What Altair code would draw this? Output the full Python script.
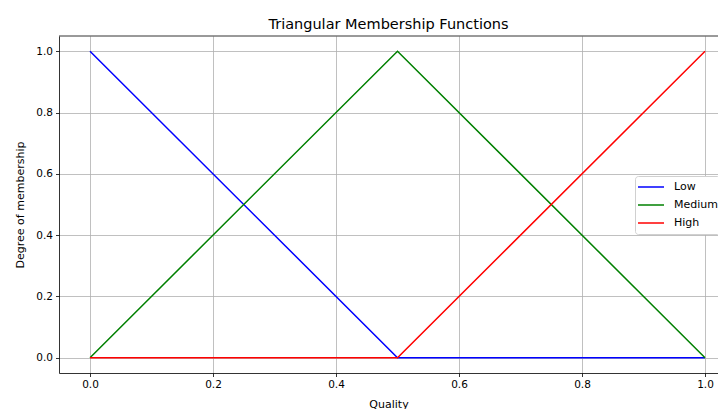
import altair as alt
import pandas as pd

quality = [0.0, 0.5, 1.0]
low = [1.0, 0.0, 0.0]
medium = [0.0, 1.0, 0.0]
high = [0.0, 0.0, 1.0]
series_names = ["Low", "Medium", "High"]
series_colors = ["blue", "green", "red"]

rows = []
for name, vals in zip(series_names, [low, medium, high]):
    for i, (q, v) in enumerate(zip(quality, vals)):
        rows.append({"Quality": q, "Membership": v, "Series": name, "order": i})
df = pd.DataFrame(rows)

font = "DejaVu Sans"
W, H = 659, 337

lines = alt.Chart(df).mark_line(strokeWidth=1.5).encode(
    x=alt.X("Quality:Q",
            scale=alt.Scale(domain=[-0.0504, 1.0211], nice=False, zero=False),
            axis=alt.Axis(values=[0, 0.2, 0.4, 0.6, 0.8, 1.0], format=".1f",
                          title="Quality", titlePadding=8)),
    y=alt.Y("Membership:Q",
            scale=alt.Scale(domain=[-0.05, 1.05], nice=False, zero=False),
            axis=alt.Axis(values=[0, 0.2, 0.4, 0.6, 0.8, 1.0], format=".1f",
                          title="Degree of membership", titlePadding=10)),
    color=alt.Color("Series:N",
                    scale=alt.Scale(domain=series_names, range=series_colors),
                    sort=series_names,
                    legend=alt.Legend(title=None, orient="none", legendX=576, legendY=140,
                                      symbolType="stroke", symbolStrokeWidth=1.5,
                                      symbolSize=676, clipHeight=18, rowPadding=0,
                                      labelOffset=9,
                                      fillColor="white",
                                      strokeColor="#d0d0d0", padding=2,
                                      cornerRadius=3,
                                      labelFontSize=11, labelFont=font,
                                      labelColor="black")),
    detail="Series:N",
    order="order:Q",
)

top_spine = alt.Chart(pd.DataFrame({"k": [0]})).mark_rule(color="black", strokeWidth=0.8).encode(
    x=alt.value(0), x2=alt.value(W), y=alt.value(0)
)

chart = alt.layer(lines, top_spine).properties(
    width=W,
    height=H,
    title=alt.TitleParams("Triangular Membership Functions", font=font, fontSize=14.5,
                          fontWeight="normal", color="black", offset=3),
    autosize=alt.AutoSizeParams(type="none"),
    padding={"left": 51, "top": 28, "right": 0, "bottom": 36},
).configure_axis(
    grid=True, gridColor="#b0b0b0", gridWidth=0.8,
    domainColor="black", domainWidth=0.8,
    tickColor="black", tickSize=3.5, tickWidth=0.8,
    labelFont=font, labelFontSize=10.5, labelColor="black", labelPadding=3,
    titleFont=font, titleFontSize=11, titleFontWeight="normal", titleColor="black",
).configure_view(
    stroke=None,
)

chart.save("out.html", embed_options={"renderer": "svg", "actions": False})
